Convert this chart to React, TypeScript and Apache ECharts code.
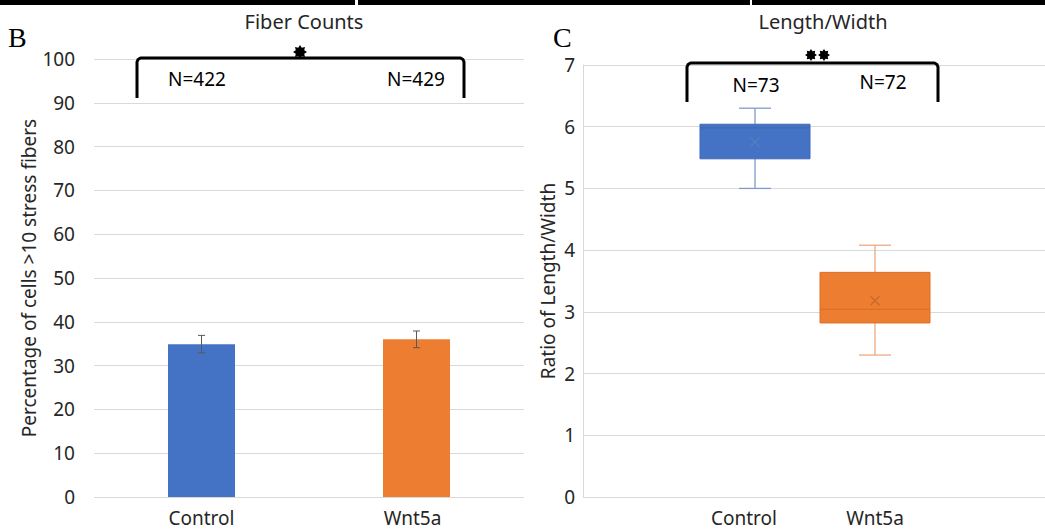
import React, { useEffect, useRef } from 'react';
import * as echarts from 'echarts';

// ---------- data ----------
const categories = ['Control', 'Wnt5a'];

// Panel B: Fiber Counts (bar + error)
const fiberPercent = [34.9, 36.0];
const fiberError = [2.0, 1.9];
const fiberN = ['N=422', 'N=429'];
const fiberYMin = 0;
const fiberYMax = 100;
const fiberYStep = 10;

// Panel C: Length/Width (box plot): [min, Q1, median, Q3, max]
const ratioControl = [5.0, 5.48, 5.98, 6.04, 6.3];
const ratioWnt5a = [2.3, 2.82, 3.04, 3.64, 4.08];
const ratioMean = [5.75, 3.18];
const ratioN = ['N=73', 'N=72'];
const ratioYMin = 0;
const ratioYMax = 7;
const ratioYStep = 1;

// ---------- styles ----------
const FONT = 'Noto Sans';
const TEXT = '#262626';
const GRID = '#d9d9d9';
const fillColors = ['#4472C4', '#ED7D31'];
const borderColors = ['#3F69B5', '#D9712B'];
const whiskerColors = ['#7F9BD0', '#EDAA80'];
const meanColors = ['#5A7DC0', '#C8692A'];

function starPoints(cx: number, cy: number, ro: number, ri: number, n: number) {
  const pts: number[][] = [];
  for (let k = 0; k < n * 2; k++) {
    const r = k % 2 === 0 ? ro : ri;
    const a = (Math.PI * k) / n - Math.PI / 2;
    pts.push([cx + r * Math.cos(a), cy + r * Math.sin(a)]);
  }
  return pts;
}

function bracket(x1: number, x2: number, yTop: number, yBot: number) {
  return [
    [x1, yBot],
    [x1, yTop + 4],
    [x1 + 1, yTop + 1.5],
    [x1 + 3.5, yTop],
    [x2 - 3.5, yTop],
    [x2 - 1, yTop + 1.5],
    [x2, yTop + 4],
    [x2, yBot],
  ];
}

export default function App() {
  const ref = useRef<HTMLDivElement>(null);

  useEffect(() => {
    document.body.style.margin = '0';
    if (!ref.current) return;
    const chart = echarts.init(ref.current, null, { renderer: 'svg' });
    const ratioBox = [ratioControl, ratioWnt5a];

    const option: any = {
      animation: false,
      backgroundColor: '#ffffff',
      textStyle: { fontFamily: FONT },
      grid: [
        { left: 94, right: 521, top: 59, bottom: 34 },
        { left: 583, right: -2, top: 65, bottom: 34 },
        { left: 695, width: 240, top: 65, bottom: 34 },
      ],
      xAxis: [
        {
          gridIndex: 0,
          type: 'category',
          data: categories.map((c, i) =>
            i === 1 ? { value: c, textStyle: { padding: [0, 8, 0, 0] } } : c
          ),
          axisLine: { show: false },
          axisTick: { show: false },
          axisLabel: { fontSize: 19, color: TEXT, margin: 11, fontFamily: FONT },
        },
        { gridIndex: 1, type: 'value', min: 0, max: 1, show: false },
        {
          gridIndex: 2,
          type: 'category',
          data: categories.map((c, i) =>
            i === 0 ? { value: c, textStyle: { padding: [0, 22, 0, 0] } } : c
          ),
          axisLine: { show: false },
          axisTick: { show: false },
          axisLabel: { fontSize: 19, color: TEXT, margin: 11, fontFamily: FONT },
        },
      ],
      yAxis: [
        {
          gridIndex: 0,
          type: 'value',
          min: fiberYMin,
          max: fiberYMax,
          interval: fiberYStep,
          axisLine: { show: false },
          axisTick: { show: false },
          splitLine: { lineStyle: { color: GRID, width: 1 } },
          axisLabel: { fontSize: 19, color: TEXT, margin: 19, fontFamily: FONT },
          name: 'Percentage of cells >10 stress fibers',
          nameLocation: 'middle',
          nameGap: 52,
          nameTextStyle: { fontSize: 19, color: TEXT, fontFamily: FONT },
        },
        {
          gridIndex: 1,
          type: 'value',
          min: ratioYMin,
          max: ratioYMax,
          interval: ratioYStep,
          axisLine: { show: true, lineStyle: { color: GRID, width: 1 } },
          axisTick: { show: false },
          splitLine: { lineStyle: { color: GRID, width: 1 } },
          axisLabel: { fontSize: 19, color: TEXT, margin: 8, fontFamily: FONT },
          name: 'Ratio of Length/Width',
          nameLocation: 'middle',
          nameGap: 26,
          nameTextStyle: { fontSize: 19, color: TEXT, fontFamily: FONT },
        },
        { gridIndex: 2, type: 'value', min: ratioYMin, max: ratioYMax, show: false },
      ],
      series: [
        {
          type: 'bar',
          xAxisIndex: 0,
          yAxisIndex: 0,
          barWidth: 67,
          data: fiberPercent.map((v, i) => ({ value: v, itemStyle: { color: fillColors[i] } })),
          z: 2,
        },
        {
          type: 'custom',
          xAxisIndex: 0,
          yAxisIndex: 0,
          z: 3,
          data: fiberPercent.map((v, i) => [i, v - fiberError[i], v + fiberError[i]]),
          encode: { x: 0, y: [1, 2] },
          renderItem: (params: any, api: any) => {
            const x = api.value(0);
            const lo = api.coord([x, api.value(1)]);
            const hi = api.coord([x, api.value(2)]);
            const st = { stroke: '#595959', lineWidth: 1 };
            return {
              type: 'group',
              children: [
                { type: 'line', shape: { x1: lo[0], y1: lo[1], x2: hi[0], y2: hi[1] }, style: st },
                { type: 'line', shape: { x1: lo[0] - 3.5, y1: lo[1], x2: lo[0] + 3.5, y2: lo[1] }, style: st },
                { type: 'line', shape: { x1: hi[0] - 3.5, y1: hi[1], x2: hi[0] + 3.5, y2: hi[1] }, style: st },
              ],
            };
          },
        },
        {
          type: 'custom',
          xAxisIndex: 2,
          yAxisIndex: 2,
          z: 3,
          data: ratioBox.map((b, i) => [i, b[0], b[1], b[2], b[3], b[4], ratioMean[i]]),
          encode: { x: 0, y: [1, 2, 3, 4, 5, 6] },
          renderItem: (params: any, api: any) => {
            const i = params.dataIndex;
            const x = api.value(0);
            const pMin = api.coord([x, api.value(1)]);
            const pQ1 = api.coord([x, api.value(2)]);
            const pMed = api.coord([x, api.value(3)]);
            const pQ3 = api.coord([x, api.value(4)]);
            const pMax = api.coord([x, api.value(5)]);
            const pMean = api.coord([x, api.value(6)]);
            const cx = pMin[0];
            const hw = 55;
            const cap = 16;
            const ws = { stroke: whiskerColors[i], lineWidth: 1.3 };
            const ms = { stroke: meanColors[i], lineWidth: 1.2 };
            const m = 4.5;
            return {
              type: 'group',
              children: [
                { type: 'line', shape: { x1: cx, y1: pMax[1], x2: cx, y2: pQ3[1] }, style: ws },
                { type: 'line', shape: { x1: cx - cap, y1: pMax[1], x2: cx + cap, y2: pMax[1] }, style: ws },
                { type: 'line', shape: { x1: cx, y1: pQ1[1], x2: cx, y2: pMin[1] }, style: ws },
                { type: 'line', shape: { x1: cx - cap, y1: pMin[1], x2: cx + cap, y2: pMin[1] }, style: ws },
                {
                  type: 'rect',
                  shape: { x: cx - hw, y: pQ3[1], width: hw * 2, height: pQ1[1] - pQ3[1] },
                  style: { fill: fillColors[i], stroke: borderColors[i], lineWidth: 1 },
                },
                {
                  type: 'line',
                  shape: { x1: cx - hw, y1: pMed[1], x2: cx + hw, y2: pMed[1] },
                  style: { stroke: borderColors[i], lineWidth: 1.2 },
                },
                { type: 'line', shape: { x1: cx - m, y1: pMean[1] - m, x2: cx + m, y2: pMean[1] + m }, style: ms },
                { type: 'line', shape: { x1: cx - m, y1: pMean[1] + m, x2: cx + m, y2: pMean[1] - m }, style: ms },
              ],
            };
          },
        },
      ],
      graphic: [
        // top dark strip
        { type: 'rect', shape: { x: 0, y: 0, width: 355, height: 5 }, style: { fill: '#000' } },
        { type: 'rect', shape: { x: 358, y: 0, width: 392, height: 5 }, style: { fill: '#000' } },
        { type: 'rect', shape: { x: 752, y: 0, width: 293, height: 5 }, style: { fill: '#000' } },
        // panel letters
        {
          type: 'text', x: 8, y: 37,
          style: { text: 'B', font: '28px "Liberation Serif"', fill: '#000', verticalAlign: 'middle', align: 'left' },
        },
        {
          type: 'text', x: 553, y: 37,
          style: { text: 'C', font: '28px "Liberation Serif"', fill: '#000', verticalAlign: 'middle', align: 'left' },
        },
        // titles
        {
          type: 'text', x: 304, y: 21,
          style: { text: 'Fiber Counts', font: `20px "${FONT}"`, fill: TEXT, align: 'center', verticalAlign: 'middle' },
        },
        {
          type: 'text', x: 823, y: 21,
          style: { text: 'Length/Width', font: `20px "${FONT}"`, fill: TEXT, align: 'center', verticalAlign: 'middle' },
        },
        // brackets
        {
          type: 'polyline', shape: { points: bracket(137, 464, 58, 98) },
          style: { stroke: '#000', lineWidth: 3, fill: null, lineJoin: 'round' }, z: 10,
        },
        {
          type: 'polyline', shape: { points: bracket(687, 938, 63, 102) },
          style: { stroke: '#000', lineWidth: 3, fill: null, lineJoin: 'round' }, z: 10,
        },
        // stars
        { type: 'polygon', shape: { points: starPoints(300, 52, 7, 4.6, 8) }, style: { fill: '#000' }, z: 11 },
        { type: 'polygon', shape: { points: starPoints(811, 55, 6, 4, 8) }, style: { fill: '#000' }, z: 11 },
        { type: 'polygon', shape: { points: starPoints(824, 55, 6, 4, 8) }, style: { fill: '#000' }, z: 11 },
        // N labels
        {
          type: 'text', x: 197, y: 79,
          style: { text: fiberN[0], font: `19px "${FONT}"`, fill: '#000', align: 'center', verticalAlign: 'middle' },
        },
        {
          type: 'text', x: 416, y: 79,
          style: { text: fiberN[1], font: `19px "${FONT}"`, fill: '#000', align: 'center', verticalAlign: 'middle' },
        },
        {
          type: 'text', x: 756, y: 85,
          style: { text: ratioN[0], font: `19px "${FONT}"`, fill: '#000', align: 'center', verticalAlign: 'middle' },
        },
        {
          type: 'text', x: 883, y: 82,
          style: { text: ratioN[1], font: `19px "${FONT}"`, fill: '#000', align: 'center', verticalAlign: 'middle' },
        },
      ],
    };

    chart.setOption(option);
    return () => chart.dispose();
  }, []);

  return <div ref={ref} style={{ width: 1045, height: 531 }} />;
}
